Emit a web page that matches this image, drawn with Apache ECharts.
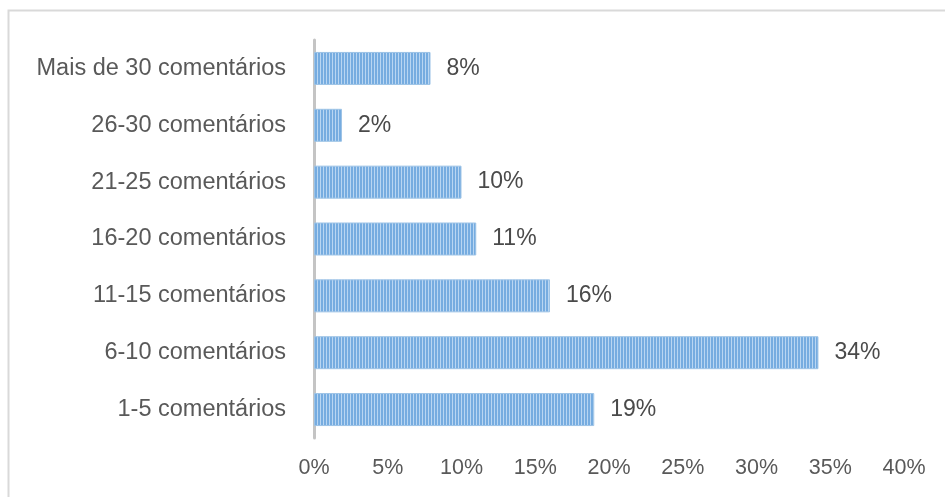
<!DOCTYPE html>
<html>
<head>
<meta charset="utf-8">
<script src="https://cdn.jsdelivr.net/npm/echarts@6/dist/echarts.min.js"></script>
<style>
html,body{margin:0;padding:0;background:#fff;}
#chart{width:945px;height:497px;}
</style>
</head>
<body>
<div id="chart"></div>
<script>
var categories = ['1-5 comentários','6-10 comentários','11-15 comentários','16-20 comentários','21-25 comentários','26-30 comentários','Mais de 30 comentários'];
var values = [19, 34.2, 16, 11, 10, 1.9, 7.9];
var xTicks = [0, 5, 10, 15, 20, 25, 30, 35, 40];

var pc = document.createElement('canvas');
pc.width = 3; pc.height = 4;
var ctx = pc.getContext('2d');
ctx.fillStyle = '#76ACE0';
ctx.fillRect(0,0,3,4);
ctx.fillStyle = '#B9D6F2';
ctx.fillRect(2,0,1,4);

var chart = echarts.init(document.getElementById('chart'), null, {renderer:'canvas'});
var fontFam = '"Liberation Sans", Arial, sans-serif';
chart.setOption({
  animation:false,
  graphic:[{type:'rect', shape:{x:8.5,y:10.5,width:960,height:520}, style:{fill:'none', stroke:'#D9D9D9', lineWidth:2}, silent:true}],
  grid:{left:314, right:41, top:40, bottom:59, containLabel:false},
  xAxis:{type:'value', min:xTicks[0], max:xTicks[xTicks.length-1], interval:5,
    axisLine:{show:false}, axisTick:{show:false}, splitLine:{show:false},
    axisLabel:{formatter:function(v){return v+'%';}, color:'#595959', fontSize:21.5, fontFamily:fontFam, margin:19}},
  yAxis:{type:'category', data:categories,
    axisLine:{show:true, lineStyle:{color:'#C4C4C4', width:3}}, axisTick:{show:false},
    axisLabel:{color:'#595959', fontSize:23.5, fontFamily:fontFam, margin:28}},
  series:[{type:'bar', data:values, barCategoryGap:'42%',
    itemStyle:{color:{image:pc, repeat:'repeat'}, borderColor:'#9DC3E6', borderWidth:1},
    label:{show:true, position:'right', distance:16, formatter:function(p){return Math.round(p.value)+'%';}, color:'#4A4A4A', fontSize:23, fontFamily:fontFam}}]
});
</script>
</body>
</html>
